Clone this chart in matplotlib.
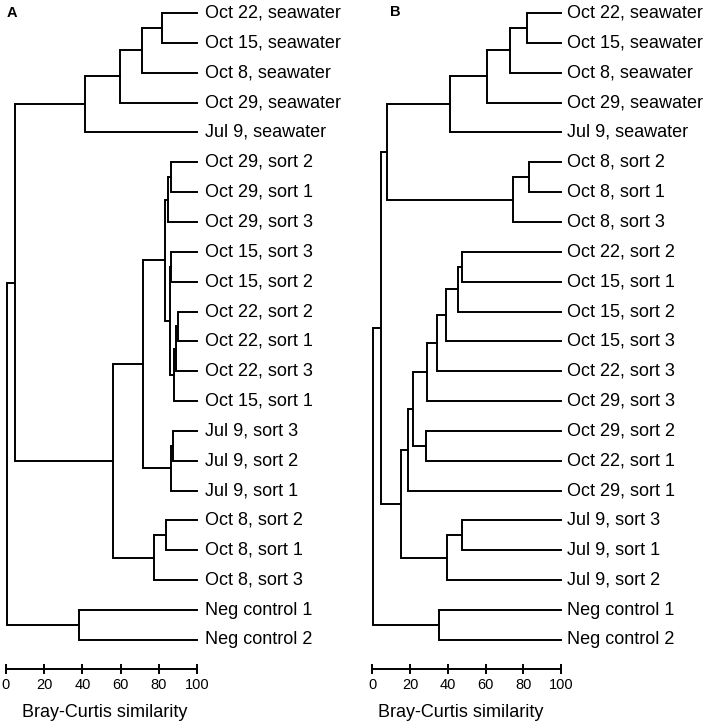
import matplotlib.pyplot as plt

plt.rcParams['font.family'] = ['Liberation Sans', 'DejaVu Sans']

# —————— Data: leaf order (top to bottom) and merges (child, child, similarity) ——————
# a child is either a leaf label or the index of an earlier merge in the same list

leaves_a = [
    "Oct 22, seawater", "Oct 15, seawater", "Oct 8, seawater", "Oct 29, seawater",
    "Jul 9, seawater", "Oct 29, sort 2", "Oct 29, sort 1", "Oct 29, sort 3",
    "Oct 15, sort 3", "Oct 15, sort 2", "Oct 22, sort 2", "Oct 22, sort 1",
    "Oct 22, sort 3", "Oct 15, sort 1", "Jul 9, sort 3", "Jul 9, sort 2",
    "Jul 9, sort 1", "Oct 8, sort 2", "Oct 8, sort 1", "Oct 8, sort 3",
    "Neg control 1", "Neg control 2",
]

merges_a = [
    ("Oct 22, seawater", "Oct 15, seawater", 81.5),   # 0
    (0, "Oct 8, seawater", 71.0),                      # 1
    (1, "Oct 29, seawater", 59.7),                     # 2
    (2, "Jul 9, seawater", 41.4),                      # 3
    ("Oct 29, sort 2", "Oct 29, sort 1", 86.4),        # 4
    (4, "Oct 29, sort 3", 85.0),                       # 5
    ("Oct 15, sort 3", "Oct 15, sort 2", 86.4),        # 6
    ("Oct 22, sort 2", "Oct 22, sort 1", 90.2),        # 7
    (7, "Oct 22, sort 3", 89.0),                       # 8
    (8, "Oct 15, sort 1", 88.0),                       # 9
    (6, 9, 85.9),                                      # 10
    (5, 10, 83.0),                                     # 11
    ("Jul 9, sort 3", "Jul 9, sort 2", 87.5),          # 12
    (12, "Jul 9, sort 1", 86.5),                       # 13
    (11, 13, 71.9),                                    # 14
    ("Oct 8, sort 2", "Oct 8, sort 1", 83.6),          # 15
    (15, "Oct 8, sort 3", 77.7),                       # 16
    (14, 16, 56.0),                                    # 17
    (3, 17, 4.7),                                      # 18
    ("Neg control 1", "Neg control 2", 38.2),          # 19
    (18, 19, 0.7),                                     # 20
]

leaves_b = [
    "Oct 22, seawater", "Oct 15, seawater", "Oct 8, seawater", "Oct 29, seawater",
    "Jul 9, seawater", "Oct 8, sort 2", "Oct 8, sort 1", "Oct 8, sort 3",
    "Oct 22, sort 2", "Oct 15, sort 1", "Oct 15, sort 2", "Oct 15, sort 3",
    "Oct 22, sort 3", "Oct 29, sort 3", "Oct 29, sort 2", "Oct 22, sort 1",
    "Oct 29, sort 1", "Jul 9, sort 3", "Jul 9, sort 1", "Jul 9, sort 2",
    "Neg control 1", "Neg control 2",
]

merges_b = [
    ("Oct 22, seawater", "Oct 15, seawater", 81.8),   # 0
    (0, "Oct 8, seawater", 73.0),                      # 1
    (1, "Oct 29, seawater", 60.8),                     # 2
    (2, "Jul 9, seawater", 41.2),                      # 3
    ("Oct 8, sort 2", "Oct 8, sort 1", 83.2),          # 4
    (4, "Oct 8, sort 3", 74.4),                        # 5
    (3, 5, 7.6),                                       # 6
    ("Oct 22, sort 2", "Oct 15, sort 1", 47.7),        # 7
    (7, "Oct 15, sort 2", 45.6),                       # 8
    (8, "Oct 15, sort 3", 38.9),                       # 9
    (9, "Oct 22, sort 3", 34.1),                       # 10
    (10, "Oct 29, sort 3", 28.8),                      # 11
    ("Oct 29, sort 2", "Oct 22, sort 1", 28.6),        # 12
    (11, 12, 21.4),                                    # 13
    (13, "Oct 29, sort 1", 19.1),                      # 14
    ("Jul 9, sort 3", "Jul 9, sort 1", 47.4),          # 15
    (15, "Jul 9, sort 2", 39.7),                       # 16
    (14, 16, 15.2),                                    # 17
    (6, 17, 4.5),                                      # 18
    ("Neg control 1", "Neg control 2", 35.3),          # 19
    (18, 19, 0.5),                                     # 20
]

ticks = [0, 20, 40, 60, 80, 100]
LW = 1.4


def draw_dendrogram(ax, leaves, merges, label_pad):
    # leaves sit at similarity 100, one row each
    pos = {name: (100.0, i) for i, name in enumerate(leaves)}
    nodes = []
    for c1, c2, sim in merges:
        x1, y1 = pos[c1] if isinstance(c1, str) else nodes[c1]
        x2, y2 = pos[c2] if isinstance(c2, str) else nodes[c2]
        ax.plot([x1, sim, sim, x2], [y1, y1, y2, y2], color='black',
                lw=LW, solid_joinstyle='miter', clip_on=False)
        nodes.append((sim, (y1 + y2) / 2))

    for i, name in enumerate(leaves):
        ax.annotate(name, (100, i), xytext=(label_pad, 0), textcoords='offset points',
                    va='center', ha='left', fontsize=13, annotation_clip=False)

    ax.set_xlim(0, 100)
    ax.set_ylim(-0.436 + 669 / 29.85, -0.436)
    for side in ['top', 'left', 'right']:
        ax.spines[side].set_visible(False)
    ax.spines['bottom'].set_linewidth(LW)
    ax.set_yticks([])
    ax.set_xticks(ticks)
    ax.tick_params(axis='x', direction='inout', length=7, width=LW, labelsize=10.5, pad=3)
    ax.set_xlabel("Bray-Curtis similarity", fontsize=13, labelpad=9)


fig = plt.figure(figsize=(7.08, 7.24), dpi=100)
W, H = 708, 724

ax_a = fig.add_axes([6 / W, (H - 669) / H, 191 / W, 669 / H])
draw_dendrogram(ax_a, leaves_a, merges_a, 5.5)

ax_b = fig.add_axes([372.3 / W, (H - 669) / H, 188.7 / W, 669 / H])
draw_dendrogram(ax_b, leaves_b, merges_b, 4)
ax_b.xaxis.set_label_coords(0.47, -0.052)
ax_a.xaxis.set_label_coords(0.515, -0.052)

fig.text(12 / W, 1 - 13 / H, "A", fontsize=10.5, fontweight='bold', ha='center', va='center')
fig.text(395 / W, 1 - 12 / H, "B", fontsize=10.5, fontweight='bold', ha='center', va='center')

fig.savefig("out.png", dpi=100)
